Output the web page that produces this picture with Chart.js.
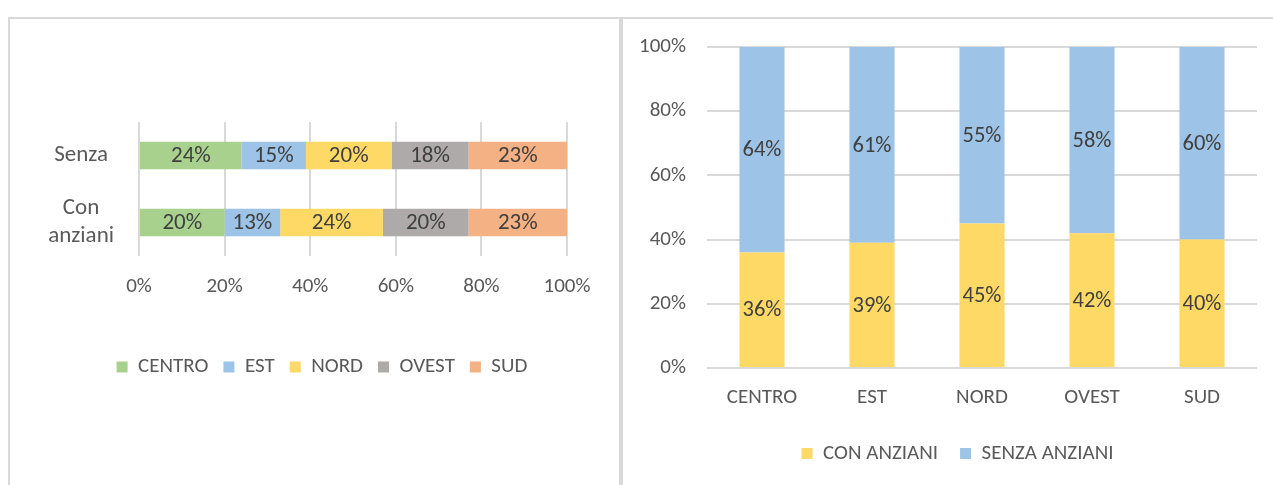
<!DOCTYPE html>
<html>
<head>
<meta charset="utf-8">
<script src="https://cdn.jsdelivr.net/npm/chart.js@4.4.1/dist/chart.umd.min.js"></script>
<style>
  body { margin: 0; background: #fff; width: 1273px; height: 485px; overflow: hidden; position: relative; }
  .panel { position: absolute; border: 2px solid #d9d9d9; box-sizing: border-box; }
  #p1 { left: 8px; top: 17px; width: 613px; height: 500px; }
  #p2 { left: 621px; top: 17px; width: 700px; height: 500px; }
  .box { position: absolute; }
  #b1 { left: 10px; top: 19px; width: 608px; height: 466px; }
  #b2 { left: 624px; top: 19px; width: 649px; height: 466px; }
</style>
</head>
<body>
<div class="panel" id="p1"></div>
<div class="panel" id="p2"></div>
<div class="box" id="b1"><canvas id="chartZone"></canvas></div>
<div class="box" id="b2"><canvas id="chartTipo"></canvas></div>
<script>
// grafico a sinistra: famiglie senza / con anziani per zona
const famiglie = ['Senza', ['Con', 'anziani']];
const quotaCentro = [24, 20];
const quotaEst = [15, 13];
const quotaNord = [20, 24];
const quotaOvest = [18, 20];
const quotaSud = [23, 23];

// grafico a destra: zone
const zone = ['CENTRO', 'EST', 'NORD', 'OVEST', 'SUD'];
const conAnziani = [36, 39, 45, 42, 40];
const senzaAnziani = [64, 61, 55, 58, 60];

const FONT = "Carlito, 'DejaVu Sans Condensed', Roboto, sans-serif";
const GRIGIO = '#595959';
const GRIGLIA = '#d9d9d9';

Chart.defaults.font.family = FONT;
Chart.defaults.color = GRIGIO;

// etichette percentuali al centro di ogni segmento
const etichette = {
    id: 'etichette',
    afterDatasetsDraw(chart, args, opts) {
        const ctx = chart.ctx;
        ctx.save();
        ctx.font = opts.size + 'px ' + FONT;
        ctx.fillStyle = '#404040';
        ctx.textAlign = 'center';
        ctx.textBaseline = 'middle';
        chart.data.datasets.forEach((ds, i) => {
            chart.getDatasetMeta(i).data.forEach((bar, j) => {
                const p = bar.getCenterPoint();
                ctx.fillText(ds.data[j] + '%', p.x, p.y + 1);
            });
        });
        ctx.restore();
    }
};

// sposta la legenda in orizzontale (centrata sul riquadro, non sull'area)
const spostaLegenda = {
    id: 'spostaLegenda',
    afterLayout(chart, args, opts) {
        chart.legend.left += opts.dx;
        chart.legend.right += opts.dx;
    }
};

// fissa la dimensione dell'asse e ignora lo sbordo delle etichette
function misura(prop, val) {
    return function (scale) {
        scale[prop] = val;
        scale.paddingLeft = 0;
        scale.paddingRight = 0;
        scale.paddingTop = 0;
        scale.paddingBottom = 0;
    };
}

new Chart(document.getElementById('chartZone'), {
    type: 'bar',
    data: {
        labels: famiglie,
        datasets: [
            { label: 'CENTRO', data: quotaCentro, backgroundColor: '#a9d18e' },
            { label: 'EST', data: quotaEst, backgroundColor: '#9dc3e6' },
            { label: 'NORD', data: quotaNord, backgroundColor: '#ffd966' },
            { label: 'OVEST', data: quotaOvest, backgroundColor: '#aeaaaa' },
            { label: 'SUD', data: quotaSud, backgroundColor: '#f4b183' }
        ]
    },
    options: {
        indexAxis: 'y',
        responsive: true,
        maintainAspectRatio: false,
        animation: false,
        categoryPercentage: 1,
        barPercentage: 0.41,
        layout: { padding: { left: 0, right: 51, top: 103, bottom: 97.5 } },
        scales: {
            x: {
                stacked: true,
                min: 0,
                max: 100,
                ticks: { stepSize: 20, padding: 18.5, font: { size: 21 }, callback: v => v + '%' },
                grid: { color: GRIGLIA, lineWidth: 2, drawTicks: false },
                border: { display: false },
                afterFit: misura('height', 85.5)
            },
            y: {
                stacked: true,
                ticks: { padding: 25, crossAlign: 'center', font: { size: 23 } },
                grid: { display: false, drawTicks: false },
                border: { display: false },
                afterFit: misura('width', 129)
            }
        },
        plugins: {
            legend: {
                position: 'bottom',
                labels: { boxWidth: 11, boxHeight: 11, padding: 15, font: { size: 21 }, color: GRIGIO }
            },
            tooltip: { enabled: false },
            etichette: { size: 23 },
            spostaLegenda: { dx: 33.5 }
        }
    },
    plugins: [etichette, spostaLegenda]
});

new Chart(document.getElementById('chartTipo'), {
    type: 'bar',
    data: {
        labels: zone,
        datasets: [
            { label: 'CON ANZIANI', data: conAnziani, backgroundColor: '#ffd966' },
            { label: 'SENZA ANZIANI', data: senzaAnziani, backgroundColor: '#9dc3e6' }
        ]
    },
    options: {
        responsive: true,
        maintainAspectRatio: false,
        animation: false,
        categoryPercentage: 1,
        barPercentage: 0.41,
        layout: { padding: { left: 0, right: 16, top: 28, bottom: 11 } },
        scales: {
            x: {
                stacked: true,
                ticks: { padding: 17.5, font: { size: 21 } },
                grid: { display: false, drawTicks: false },
                border: { display: false },
                afterFit: misura('height', 53)
            },
            y: {
                stacked: true,
                min: 0,
                max: 100,
                ticks: { stepSize: 20, padding: 21, font: { size: 21 }, callback: v => v + '%' },
                grid: { color: GRIGLIA, lineWidth: 2, drawTicks: false },
                border: { display: false },
                afterFit: misura('width', 83)
            }
        },
        plugins: {
            legend: {
                position: 'bottom',
                labels: { boxWidth: 11, boxHeight: 11, padding: 22, font: { size: 21 }, color: GRIGIO }
            },
            tooltip: { enabled: false },
            etichette: { size: 22.5 },
            spostaLegenda: { dx: 17 }
        }
    },
    plugins: [etichette, spostaLegenda]
});
</script>
</body>
</html>
